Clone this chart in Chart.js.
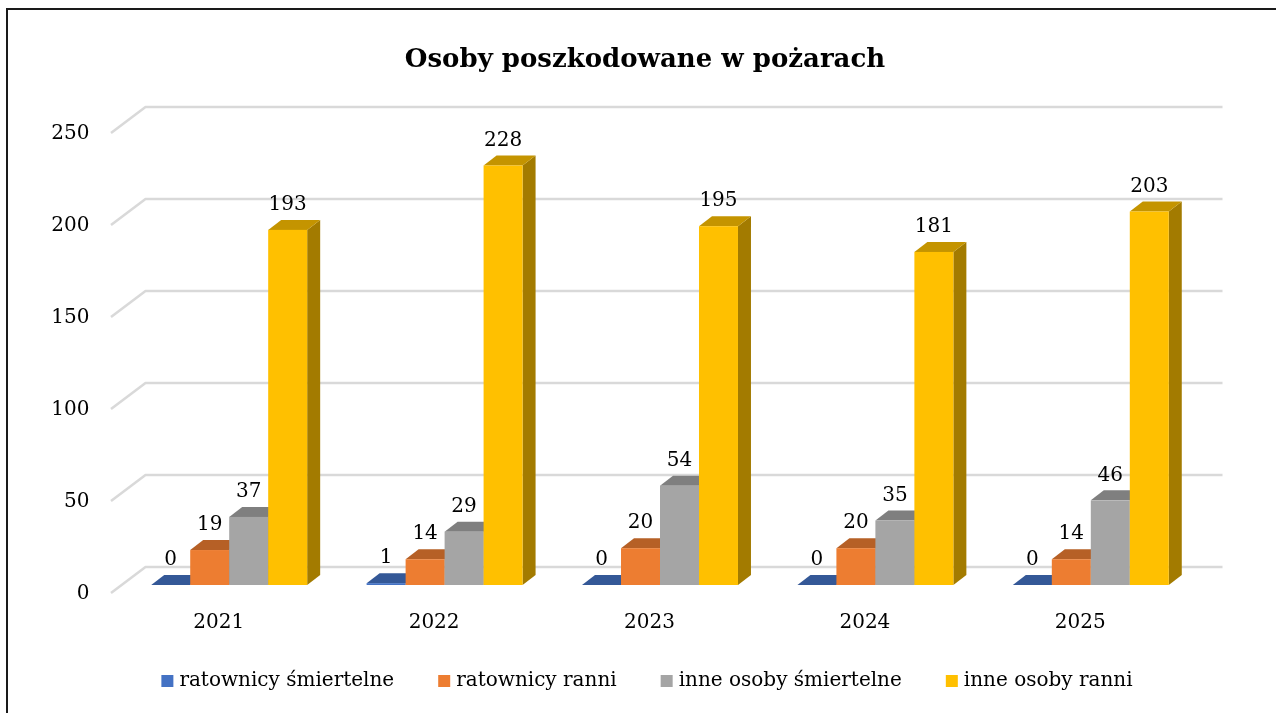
<!DOCTYPE html>
<html>
<head>
<meta charset="utf-8">
<script src="https://cdn.jsdelivr.net/npm/chart.js@4.4.1/dist/chart.umd.min.js"></script>
<style>
  html, body { margin: 0; padding: 0; background: #fff; }
  canvas { display: block; }
</style>
</head>
<body>
<canvas id="chart" width="1276" height="713"></canvas>
<script>
// Data
const years = ['2021', '2022', '2023', '2024', '2025'];
const ratownicySmiertelne = [0, 1, 0, 0, 0];
const ratownicyRanni = [19, 14, 20, 20, 14];
const inneSmiertelne = [37, 29, 54, 35, 46];
const inneRanni = [193, 228, 195, 181, 203];
const seriesNames = ['ratownicy śmiertelne', 'ratownicy ranni', 'inne osoby śmiertelne', 'inne osoby ranni'];
const seriesColors = ['#4472C4', '#ED7D31', '#A5A5A5', '#FFC000'];
const yMax = 250;
const yStep = 50;

const chartTitle = 'Osoby poszkodowane w pożarach';
const FONT = "'DejaVu Serif', serif";

// 3D depth of the boxes and of the floor/back wall
const BAR_DX = 13, BAR_DY = 10;
const FRONT_DX = -10.5, FRONT_DY = 8;
const BACK_DX = 24, BACK_DY = -18;

function shade(hex, f) {
    const n = parseInt(hex.slice(1), 16);
    const r = Math.round(((n >> 16) & 255) * f);
    const g = Math.round(((n >> 8) & 255) * f);
    const b = Math.round((n & 255) * f);
    return 'rgb(' + r + ',' + g + ',' + b + ')';
}

// Background, frame and title
const framePlugin = {
    id: 'frame',
    beforeDraw(chart) {
        const ctx = chart.ctx;
        ctx.save();
        ctx.fillStyle = '#fff';
        ctx.fillRect(0, 0, chart.width, chart.height);
        ctx.strokeStyle = '#1a1a1a';
        ctx.lineWidth = 2;
        ctx.beginPath();
        ctx.moveTo(7, chart.height);
        ctx.lineTo(7, 9);
        ctx.lineTo(chart.width, 9);
        ctx.stroke();
        ctx.fillStyle = '#000';
        ctx.font = 'bold 26px ' + FONT;
        ctx.textAlign = 'center';
        ctx.textBaseline = 'middle';
        ctx.fillText(chartTitle, 645, 60);
        ctx.restore();
    }
};

// Gridlines along floor and back wall, then 3D boxes and value labels
const boxPlugin = {
    id: 'box3d',
    beforeDatasetsDraw(chart) {
        const ctx = chart.ctx;
        const area = chart.chartArea;
        const yScale = chart.scales.y;
        ctx.save();

        ctx.strokeStyle = '#D9D9D9';
        ctx.lineWidth = 2.5;
        ctx.lineJoin = 'round';
        yScale.ticks.forEach(t => {
            const y = yScale.getPixelForValue(t.value);
            ctx.beginPath();
            ctx.moveTo(area.left + FRONT_DX, y + FRONT_DY);
            ctx.lineTo(area.left + BACK_DX, y + BACK_DY);
            ctx.lineTo(area.right + BACK_DX, y + BACK_DY);
            ctx.stroke();
        });

        const metas = chart.data.datasets.map((ds, i) => chart.getDatasetMeta(i));
        for (let i = 0; i < years.length; i++) {
            metas.forEach((meta, d) => {
                const el = meta.data[i];
                const col = seriesColors[d];
                const l = el.x - el.width / 2, r = el.x + el.width / 2;
                const top = el.y, base = el.base;
                // side
                ctx.fillStyle = shade(col, 0.64);
                ctx.beginPath();
                ctx.moveTo(r, top);
                ctx.lineTo(r + BAR_DX, top - BAR_DY);
                ctx.lineTo(r + BAR_DX, base - BAR_DY);
                ctx.lineTo(r, base);
                ctx.closePath();
                ctx.fill();
                // top
                ctx.fillStyle = shade(col, 0.77);
                ctx.beginPath();
                ctx.moveTo(l, top);
                ctx.lineTo(r, top);
                ctx.lineTo(r + BAR_DX, top - BAR_DY);
                ctx.lineTo(l + BAR_DX, top - BAR_DY);
                ctx.closePath();
                ctx.fill();
                // front
                ctx.fillStyle = col;
                ctx.fillRect(l, top, r - l, base - top);
            });
        }

        ctx.fillStyle = '#000';
        ctx.font = '20px ' + FONT;
        ctx.textAlign = 'center';
        ctx.textBaseline = 'middle';
        metas.forEach((meta, d) => {
            meta.data.forEach((el, i) => {
                ctx.fillText(String(chart.data.datasets[d].data[i]), el.x, el.y - 25);
            });
        });
        ctx.restore();
        return false;
    }
};

// Legend row under the axis
const legendPlugin = {
    id: 'legendRow',
    afterDraw(chart) {
        const ctx = chart.ctx;
        ctx.save();
        ctx.font = '20px ' + FONT;
        ctx.textBaseline = 'middle';
        const box = 12, gapText = 6, gapItem = 44;
        const widths = seriesNames.map(n => box + gapText + ctx.measureText(n).width);
        const total = widths.reduce((a, b) => a + b, 0) + gapItem * (widths.length - 1);
        let x = 647 - total / 2;
        const y = 681;
        seriesNames.forEach((n, i) => {
            ctx.fillStyle = seriesColors[i];
            ctx.fillRect(x, y - 6, box, box);
            ctx.fillStyle = '#000';
            ctx.fillText(n, x + box + gapText, y);
            x += widths[i] + gapItem;
        });
        ctx.restore();
    }
};

Chart.defaults.font.family = FONT;
Chart.defaults.font.size = 20;
Chart.defaults.color = '#000';

new Chart(document.getElementById('chart'), {
    type: 'bar',
    data: {
        labels: years,
        datasets: [
            { label: seriesNames[0], data: ratownicySmiertelne, backgroundColor: seriesColors[0] },
            { label: seriesNames[1], data: ratownicyRanni, backgroundColor: seriesColors[1] },
            { label: seriesNames[2], data: inneSmiertelne, backgroundColor: seriesColors[2] },
            { label: seriesNames[3], data: inneRanni, backgroundColor: seriesColors[3] }
        ]
    },
    options: {
        responsive: false,
        animation: false,
        devicePixelRatio: 1,
        layout: { padding: { left: 0, right: 77.5, top: 125, bottom: 68 } },
        datasets: { bar: { barPercentage: 1, categoryPercentage: 0.724 } },
        plugins: { legend: { display: false }, title: { display: false }, tooltip: { enabled: false } },
        scales: {
            x: {
                grid: { display: false, drawTicks: false },
                border: { display: false },
                ticks: { padding: 26, labelOffset: FRONT_DX },
                afterFit: s => { s.height = 60; }
            },
            y: {
                min: 0,
                max: yMax,
                grid: { display: false, drawTicks: false },
                border: { display: false },
                ticks: { stepSize: yStep, padding: 32, labelOffset: 9 },
                afterFit: s => { s.width = 121.5; }
            }
        }
    },
    plugins: [framePlugin, boxPlugin, legendPlugin]
});
</script>
</body>
</html>
